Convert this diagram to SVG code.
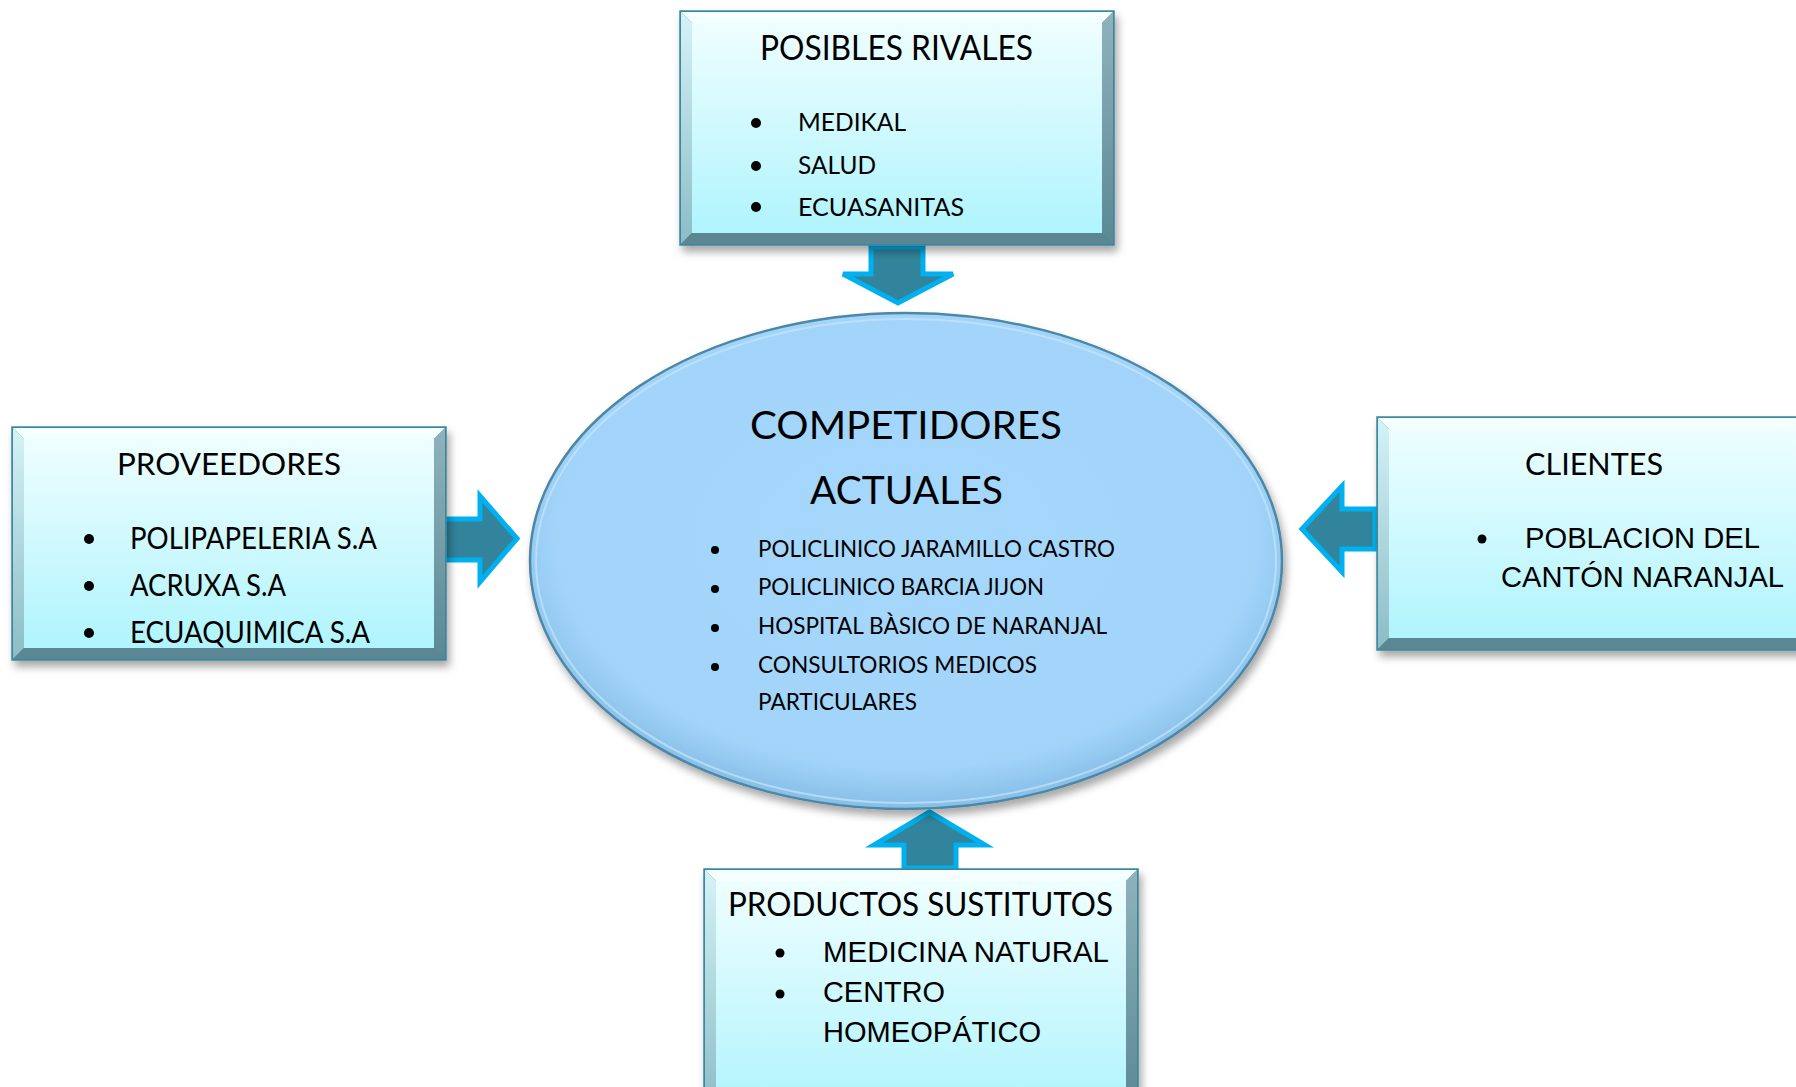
<svg xmlns="http://www.w3.org/2000/svg" width="1796" height="1087" viewBox="0 0 1796 1087">
<defs>
<linearGradient id="face" x1="0" y1="0" x2="0" y2="1">
<stop offset="0" stop-color="#EEFEFF"/>
<stop offset="1" stop-color="#B0F4FD"/>
</linearGradient>
<linearGradient id="lbev" x1="0" y1="0" x2="0" y2="1">
<stop offset="0" stop-color="#D4F3F7"/>
<stop offset="1" stop-color="#8CBCC6"/>
</linearGradient>
<linearGradient id="rbev" x1="0" y1="0" x2="0" y2="1">
<stop offset="0" stop-color="#8FB3BC"/>
<stop offset="1" stop-color="#5A8894"/>
</linearGradient>
<radialGradient id="ell" cx="0.5" cy="0.45" r="0.55">
<stop offset="0" stop-color="#A6D8FC"/>
<stop offset="0.85" stop-color="#A2D4FA"/>
<stop offset="1" stop-color="#86BEE6"/>
</radialGradient>
<filter id="shadow" x="-10%" y="-10%" width="125%" height="130%">
<feGaussianBlur in="SourceAlpha" stdDeviation="4"/>
<feOffset dx="3" dy="6" result="b"/>
<feComponentTransfer><feFuncA type="linear" slope="0.35"/></feComponentTransfer>
<feMerge><feMergeNode/><feMergeNode in="SourceGraphic"/></feMerge>
</filter>
</defs>
<style>
.t{font-family:Lato,"Open Sans","Liberation Sans",sans-serif;fill:#000}
.a{font-family:"Liberation Sans",Arial,sans-serif;fill:#000}
.outer{fill:#4E7C88;stroke:#3B8AA2;stroke-width:1.5}
.top{fill:#F4FFFF}
.lb{fill:url(#lbev)}
.rb{fill:url(#rbev)}
.bb{fill:#5A8793}
.face{fill:url(#face)}
.arrow{fill:#31849B;stroke:#00B0F0;stroke-width:5;stroke-linejoin:miter}
.dot{fill:#000}
</style>

<g id="connectors">
<polygon class="arrow" points="871,247 923,247 923,274 953,274 898,303 843,274 871,274"/>
<polygon class="arrow" points="444,519 480,519 480,496 517,538.5 480,582 480,560 444,560"/>
<polygon class="arrow" points="1375,509 1342,509 1342,486 1302,529 1342,572 1342,549 1375,549"/>
<polygon class="arrow" points="904,868 956,868 956,845 985,845 929.5,812 874,845 904,845"/>
</g>

<g id="node-posibles-rivales" filter="url(#shadow)">
<rect class="outer" x="680" y="11" width="434" height="234"/>
<polygon class="top" points="681,12 1113,12 1102,23 692,23"/>
<polygon class="lb" points="681,12 692,23 692,233 681,244"/>
<polygon class="rb" points="1113,12 1113,244 1102,233 1102,23"/>
<polygon class="bb" points="681,244 692,233 1102,233 1113,244"/>
<rect class="face" x="692" y="23" width="410" height="210"/>
</g>
<g id="text-posibles-rivales">
<text class="t" x="760" y="60" font-size="35" textLength="273" lengthAdjust="spacingAndGlyphs">POSIBLES RIVALES</text>
<circle class="dot" cx="756" cy="123" r="5"/>
<circle class="dot" cx="756" cy="166" r="5"/>
<circle class="dot" cx="756" cy="207" r="5"/>
<text class="t" x="798" y="131" font-size="25" textLength="108" lengthAdjust="spacingAndGlyphs">MEDIKAL</text>
<text class="t" x="798" y="174" font-size="25" textLength="78" lengthAdjust="spacingAndGlyphs">SALUD</text>
<text class="t" x="798" y="216" font-size="25" textLength="166" lengthAdjust="spacingAndGlyphs">ECUASANITAS</text>
</g>

<g id="node-proveedores" filter="url(#shadow)">
<rect class="outer" x="12" y="427" width="434" height="233"/>
<polygon class="top" points="13,428 445,428 434,439 24,439"/>
<polygon class="lb" points="13,428 24,439 24,648 13,659"/>
<polygon class="rb" points="445,428 445,659 434,648 434,439"/>
<polygon class="bb" points="13,659 24,648 434,648 445,659"/>
<rect class="face" x="24" y="439" width="410" height="209"/>
</g>
<g id="text-proveedores">
<text class="t" x="117" y="475" font-size="30" textLength="224" lengthAdjust="spacingAndGlyphs">PROVEEDORES</text>
<circle class="dot" cx="89" cy="539" r="5"/>
<circle class="dot" cx="89" cy="586" r="5"/>
<circle class="dot" cx="89" cy="633" r="5"/>
<text class="t" x="130" y="549" font-size="30" textLength="247" lengthAdjust="spacingAndGlyphs">POLIPAPELERIA S.A</text>
<text class="t" x="130" y="596" font-size="30" textLength="156" lengthAdjust="spacingAndGlyphs">ACRUXA S.A</text>
<text class="t" x="130" y="643" font-size="30" textLength="240" lengthAdjust="spacingAndGlyphs">ECUAQUIMICA S.A</text>
</g>

<g id="node-clientes" filter="url(#shadow)">
<rect class="outer" x="1377" y="417" width="440" height="233"/>
<polygon class="top" points="1378,418 1816,418 1805,429 1389,429"/>
<polygon class="lb" points="1378,418 1389,429 1389,638 1378,649"/>
<polygon class="bb" points="1378,649 1389,638 1816,638 1816,649"/>
<rect class="face" x="1389" y="429" width="427" height="209"/>
</g>
<g id="text-clientes">
<text class="t" x="1525" y="475" font-size="31" textLength="138" lengthAdjust="spacingAndGlyphs">CLIENTES</text>
<circle class="dot" cx="1482" cy="539" r="4.5"/>
<text class="a" x="1525" y="548" font-size="29" textLength="235" lengthAdjust="spacingAndGlyphs">POBLACION DEL</text>
<text class="a" x="1501" y="587" font-size="29" textLength="283" lengthAdjust="spacingAndGlyphs">CANTÓN NARANJAL</text>
</g>

<g id="node-productos-sustitutos" filter="url(#shadow)">
<rect class="outer" x="704" y="869" width="434" height="240"/>
<polygon class="top" points="705,870 1137,870 1126,881 716,881"/>
<polygon class="lb" points="705,870 716,881 716,1110 705,1110"/>
<polygon class="rb" points="1137,870 1137,1110 1126,1110 1126,881"/>
<rect class="face" x="716" y="881" width="410" height="229"/>
</g>
<g id="text-productos-sustitutos">
<text class="t" x="728" y="916" font-size="32" textLength="385" lengthAdjust="spacingAndGlyphs">PRODUCTOS SUSTITUTOS</text>
<circle class="dot" cx="780" cy="953" r="4.5"/>
<circle class="dot" cx="780" cy="994" r="4.5"/>
<text class="a" x="823" y="962" font-size="29" textLength="286" lengthAdjust="spacingAndGlyphs">MEDICINA NATURAL</text>
<text class="a" x="823" y="1002" font-size="29" textLength="122" lengthAdjust="spacingAndGlyphs">CENTRO</text>
<text class="a" x="823" y="1042" font-size="29" textLength="218" lengthAdjust="spacingAndGlyphs">HOMEOPÁTICO</text>
</g>

<g id="node-competidores-actuales">
<ellipse cx="906" cy="561" rx="376" ry="248" fill="url(#ell)" stroke="#4D87A6" stroke-width="2.5" filter="url(#shadow)"/>
<ellipse cx="906" cy="561" rx="370" ry="242" fill="none" stroke="#C4E6FD" stroke-width="2" opacity="0.7"/>
<text class="t" x="750" y="439" font-size="38" textLength="312" lengthAdjust="spacingAndGlyphs">COMPETIDORES</text>
<text class="t" x="810" y="504" font-size="38" textLength="193" lengthAdjust="spacingAndGlyphs">ACTUALES</text>
<circle class="dot" cx="715" cy="550" r="4"/>
<circle class="dot" cx="715" cy="589" r="4"/>
<circle class="dot" cx="715" cy="628" r="4"/>
<circle class="dot" cx="715" cy="667" r="4"/>
<text class="t" x="758" y="557" font-size="23" textLength="357" lengthAdjust="spacingAndGlyphs">POLICLINICO JARAMILLO CASTRO</text>
<text class="t" x="758" y="595" font-size="23" textLength="286" lengthAdjust="spacingAndGlyphs">POLICLINICO BARCIA JIJON</text>
<text class="t" x="758" y="634" font-size="23" textLength="349" lengthAdjust="spacingAndGlyphs">HOSPITAL BÀSICO DE NARANJAL</text>
<text class="t" x="758" y="673" font-size="23" textLength="279" lengthAdjust="spacingAndGlyphs">CONSULTORIOS MEDICOS</text>
<text class="t" x="758" y="710" font-size="23" textLength="159" lengthAdjust="spacingAndGlyphs">PARTICULARES</text>
</g>
</svg>
